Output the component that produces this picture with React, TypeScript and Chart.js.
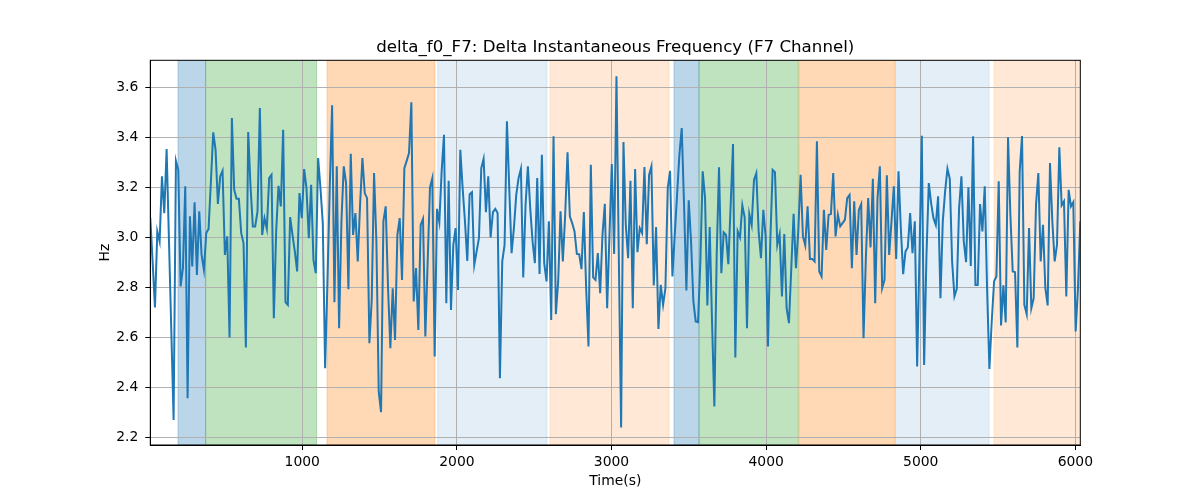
import { useEffect, useRef } from 'react';
import { Chart, registerables } from 'chart.js';

Chart.register(...registerables);

// time range of the recording (seconds)
const T_START = 17;
const T_END = 6032;

// delta instantaneous frequency, F7 channel (Hz), evenly sampled over T_START..T_END
const DELTA_F0 = [
  3.076, 2.9, 2.719, 3.023, 2.983, 3.243, 3.096, 3.352, 2.99, 2.63, 2.269, 3.305,
  3.269, 2.803, 2.876, 3.203, 2.356, 3.083, 2.883, 3.139, 2.849, 3.103,
  2.929, 2.869, 3.016, 3.033, 3.223, 3.419, 3.349, 3.133, 3.243, 3.265,
  2.929, 3.003, 2.599, 3.476, 3.189, 3.153, 3.153, 3.016, 2.976, 2.559,
  3.42, 3.203, 3.043, 3.043, 3.103, 3.516, 3.009, 3.076, 3.033, 3.236,
  3.249, 2.676, 3.023, 3.205, 3.123, 3.429, 2.74, 2.729, 3.08, 3.009,
  2.943, 2.863, 3.176, 3.076, 3.272, 3.196, 2.996,

  3.209, 2.909, 2.856, 3.316, 3.196, 3.056, 2.476, 2.82, 3.2, 3.527,
  2.74, 3.283, 2.636, 3.063, 3.283, 3.216, 2.792, 3.333, 3.009, 3.096,
  2.903, 3.129, 3.316, 3.176, 3.156, 2.576, 2.749, 3.256, 2.983, 2.383,
  2.3, 3.063, 3.123, 2.796, 2.556, 2.796, 2.589, 3.009, 3.076, 2.829,
  3.276, 3.305, 3.336, 3.539, 2.743, 2.876, 2.629, 3.049, 3.073, 2.603,
  2.903, 3.199, 3.236, 2.523, 3.113, 3.06, 3.263, 3.409, 2.736, 3.225,
  2.709, 2.969, 3.036, 2.789, 3.349,

  3.196, 3.063, 2.905, 3.172, 3.18, 2.889, 2.943, 2.996, 3.276, 3.313,
  3.1, 3.243, 2.999, 3.1, 3.113, 3.096, 2.436, 2.903, 2.969, 3.463,
  3.196, 2.936, 3.036, 3.169, 3.236, 3.273, 2.839, 3.129, 3.283, 3.116,
  2.983, 2.896, 3.236, 2.853, 3.329, 2.896, 2.823, 3.063, 2.669, 3.403,
  2.692, 2.823, 3.103, 2.903, 3.089, 3.339, 3.083, 3.056, 3.023, 2.933,
  2.932, 2.872, 3.1, 2.796, 2.563, 3.289, 2.839, 2.829, 2.936, 2.776,
  3.009, 3.133, 2.716, 3.009, 3.292, 2.933, 3.643,

  2.929, 2.239, 3.38, 3.049, 2.916, 3.225, 2.716, 3.272, 2.94, 3.036,
  3.016, 3.28, 2.972, 3.249, 3.283, 2.807, 3.04, 2.633, 2.809, 2.729,
  2.796, 3.196, 3.265, 2.843, 3.009, 3.169, 3.329, 3.436, 3.129, 2.787,
  3.147, 2.983, 2.743, 2.663, 2.66, 2.903, 3.263, 3.156, 2.727, 3.04,
  2.663, 2.323, 2.929, 3.279, 2.856, 3.019, 3.009, 2.892, 3.129, 3.372,
  2.519, 3.023, 2.999, 3.127, 3.079, 2.636, 3.092, 3.049, 3.229, 3.256,
  3.023, 2.916, 3.109, 3.003, 2.563, 2.983, 3.269,

  3.26, 2.969, 3.012, 2.763, 3.012, 2.716, 2.656, 2.876, 3.093, 2.876,
  3.023, 3.249, 3.003, 2.967, 3.123, 2.913, 2.913, 2.903, 3.383, 2.863,
  2.843, 3.109, 2.949, 3.089, 3.092, 3.256, 3.003, 3.089, 3.043, 3.056,
  3.069, 3.156, 3.169, 2.876, 3.143, 2.929, 3.109, 3.132, 2.596, 2.916,
  3.156, 2.959, 3.233, 2.736, 3.156, 3.283, 2.796, 2.829, 3.247, 2.929,
  3.063, 3.203, 2.913, 3.263, 3.036, 2.852, 2.943, 2.959, 3.096, 2.936,
  3.063, 2.483, 2.929, 3.405, 2.489, 2.929, 3.216,

  3.136, 3.076, 3.049, 3.163, 2.756, 3.063, 3.183, 3.273, 3.233, 2.903,
  2.763, 2.793, 3.116, 3.243, 2.983, 2.9, 3.199, 2.885, 3.403, 2.809,
  2.809, 3.132, 3.023, 3.203, 2.796, 2.473, 2.663, 2.823, 2.843, 3.223,
  2.647, 2.807, 2.659, 3.399, 3.089, 2.863, 2.86, 2.559, 3.263, 3.404,
  2.729, 2.692, 3.036, 2.716, 2.756, 3.129, 3.256, 2.903, 3.049, 2.796,
  2.727, 3.296, 3.063, 2.903, 2.969, 3.359, 3.127, 3.143, 2.763, 3.189,
  3.123, 3.14, 2.623, 2.796, 3.063,
];

const X_TICKS = [1000, 2000, 3000, 4000, 5000, 6000];
const Y_TICKS = [2.2, 2.4, 2.6, 2.8, 3.0, 3.2, 3.4, 3.6];

// shaded segments (seconds)
const SPAN_START = [196, 375, 1160, 1876, 2602, 3404, 3566, 4212, 4837, 5474];
const SPAN_END = [375, 1093, 1858, 2583, 3372, 3566, 4208, 4833, 5442, 6060];
const SPAN_COLOR = [
  'rgba(31,119,180,0.3)',
  'rgba(44,160,44,0.3)',
  'rgba(255,127,14,0.3)',
  'rgba(31,119,180,0.12)',
  'rgba(255,127,14,0.17)',
  'rgba(31,119,180,0.3)',
  'rgba(44,160,44,0.3)',
  'rgba(255,127,14,0.3)',
  'rgba(31,119,180,0.12)',
  'rgba(255,127,14,0.17)',
];

const FONT = "'DejaVu Sans', sans-serif";

const spans = {
  id: 'spans',
  beforeDraw(chart: any) {
    const { ctx, chartArea: a, scales } = chart;
    const x = scales.x;
    ctx.save();
    ctx.beginPath();
    ctx.rect(a.left, a.top, a.right - a.left, a.bottom - a.top);
    ctx.clip();
    SPAN_START.forEach((s, i) => {
      const x0 = x.getPixelForValue(s);
      const x1 = x.getPixelForValue(SPAN_END[i]);
      ctx.fillStyle = SPAN_COLOR[i];
      ctx.fillRect(x0, a.top, x1 - x0, a.bottom - a.top);
      ctx.strokeStyle = SPAN_COLOR[i];
      ctx.lineWidth = 1;
      ctx.strokeRect(x0, a.top, x1 - x0, a.bottom - a.top);
    });
    ctx.restore();
  },
  afterDraw(chart: any) {
    const { ctx, chartArea: a } = chart;
    ctx.save();
    ctx.strokeStyle = '#000';
    ctx.lineWidth = 1;
    ctx.strokeRect(a.left, a.top, a.right - a.left, a.bottom - a.top);
    ctx.restore();
  },
};

const App = () => {
  const ref = useRef<HTMLCanvasElement>(null);
  const chart = useRef<Chart>();

  useEffect(() => {
    if (!ref.current) return;
    const step = (T_END - T_START) / (DELTA_F0.length - 1);
    const points = DELTA_F0.map((v, i) => ({ x: T_START + i * step, y: v }));

    chart.current = new Chart(ref.current, {
      type: 'line',
      data: {
        datasets: [
          {
            data: points,
            borderColor: '#1f77b4',
            borderWidth: 2,
            pointRadius: 0,
            tension: 0,
            fill: false,
          },
        ],
      },
      options: {
        animation: false,
        responsive: false,
        devicePixelRatio: 1,
        layout: { padding: { left: 96.7, right: 119.7, top: 0, bottom: 0 } },
        plugins: {
          legend: { display: false },
          tooltip: { enabled: false },
          title: {
            display: true,
            fullSize: false,
            text: 'delta_f0_F7: Delta Instantaneous Frequency (F7 Channel)',
            color: '#000',
            font: { family: FONT, size: 16.67, weight: 'normal' },
            padding: { top: 37.5, bottom: 2.8 },
          },
        },
        scales: {
          x: {
            type: 'linear',
            min: T_START,
            max: T_END,
            afterBuildTicks: (s: any) => {
              s.ticks = X_TICKS.map((v) => ({ value: v }));
            },
            afterFit: (s: any) => {
              s.height = 55;
            },
            grid: { color: '#b0b0b0', lineWidth: 1, tickLength: 5, tickColor: '#000', tickWidth: 1 },
            border: { color: '#000', width: 1 },
            ticks: {
              color: '#000',
              font: { family: FONT, size: 13.9 },
              padding: 4,
              maxRotation: 0,
              autoSkip: false,
              callback: (v: any) => String(v),
            },
            title: {
              display: true,
              text: 'Time(s)',
              color: '#000',
              font: { family: FONT, size: 13.9 },
              padding: { top: 0, bottom: 10.7 },
            },
          },
          y: {
            min: 2.169,
            max: 3.707,
            afterBuildTicks: (s: any) => {
              s.ticks = Y_TICKS.map((v) => ({ value: v }));
            },
            afterFit: (s: any) => {
              s.width = 53.6;
            },
            grid: { color: '#b0b0b0', lineWidth: 1, tickLength: 5, tickColor: '#000', tickWidth: 1 },
            border: { color: '#000', width: 1 },
            ticks: {
              color: '#000',
              font: { family: FONT, size: 13.9 },
              padding: 7,
              autoSkip: false,
              callback: (v: any) => Number(v).toFixed(1),
            },
            title: {
              display: true,
              text: 'Hz',
              color: '#000',
              font: { family: FONT, size: 13.9 },
              padding: { top: 0, bottom: 0 },
            },
          },
        },
      },
      plugins: [spans],
    });

    return () => {
      if (chart.current) {
        chart.current.destroy();
      }
    };
  }, []);

  return (
    <div style={{ position: 'absolute', left: 0, top: 0, width: 1200, height: 500, background: '#fff' }}>
      <canvas ref={ref} width={1200} height={500}></canvas>
    </div>
  );
};

export default App;
